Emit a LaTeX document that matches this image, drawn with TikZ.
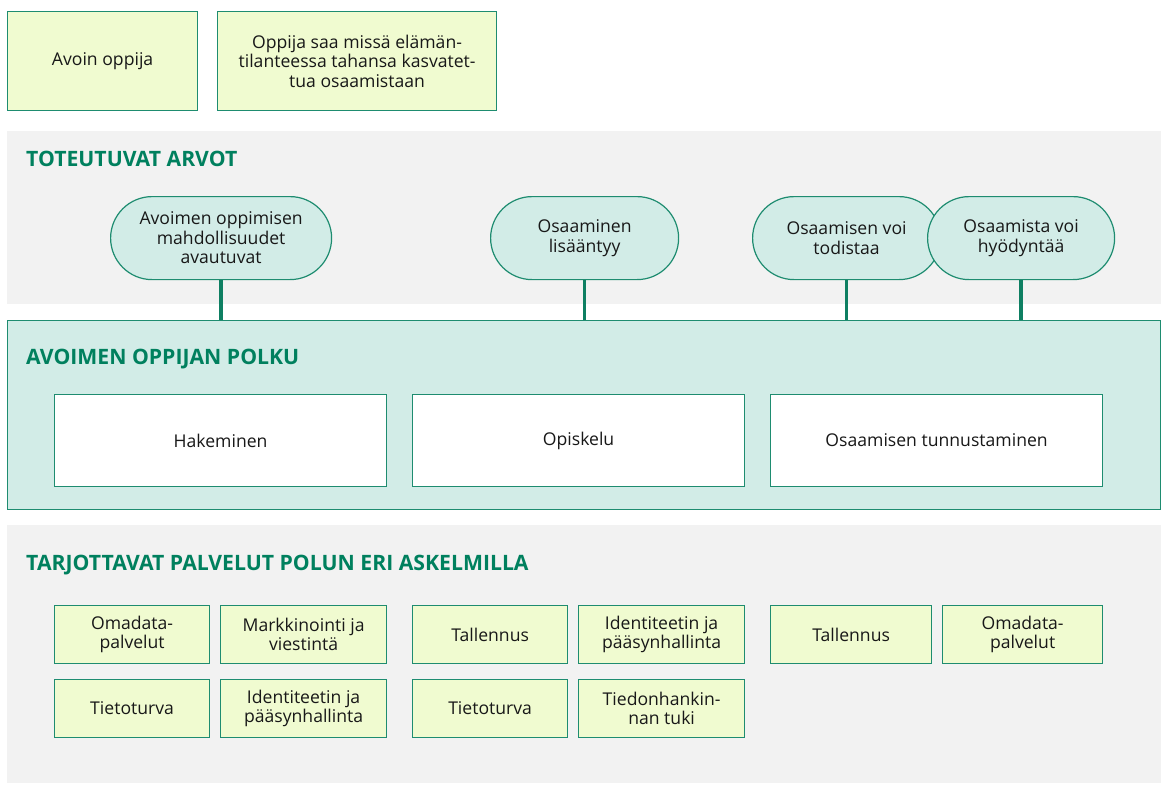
\documentclass[tikz,border=0pt]{standalone}
\usepackage{fontspec}
\setmainfont{Open Sans}
\definecolor{tealline}{HTML}{1E8C70}
\definecolor{titlegreen}{HTML}{00805E}
\definecolor{pillfill}{HTML}{D2ECE7}
\definecolor{yfill}{HTML}{F0FBD0}
\definecolor{greybg}{HTML}{F2F2F2}
\definecolor{txt}{HTML}{181818}
\definecolor{conn}{HTML}{0E7F62}
\begin{document}
\begin{tikzpicture}[x=1pt,y=-1pt,
  every node/.style={font=\fontsize{17.6}{19.5}\selectfont, text=txt, align=center, inner sep=0pt, anchor=north west},
  ybox/.style={draw=tealline, line width=1.2pt, fill=yfill},
  wbox/.style={draw=tealline, line width=1.2pt, fill=white, minimum width=332pt, minimum height=92pt},
  sbox/.style={ybox, minimum height=58pt},
  pill/.style={draw=tealline, line width=1.2pt, fill=pillfill, rounded corners=41.5pt, minimum width=188pt, minimum height=83pt},
  panel/.style={fill=greybg, minimum width=1154pt},
  ttl/.style={font=\fontsize{21.2}{25}\selectfont\bfseries, text=titlegreen, anchor=base west},
  conn/.style={draw=conn, line width=3.5pt}
]
\useasboundingbox (0,0) rectangle (1161,785);
% top boxes
\node[ybox, minimum width=190pt, minimum height=99pt] (avoin) at (7,11) {Avoin oppija};
\node[ybox, minimum width=279pt, minimum height=99pt] (oppija) at (217,11) {Oppija saa missä elämän-\\tilanteessa tahansa kasvatet-\\tua osaamistaan};
% panel 1
\node[panel, minimum height=173pt] (arvot) at (7,131) {};
\node[ttl] (arvottitle) at (26,166) {TOTEUTUVAT ARVOT};
% panel 2
\node[draw=tealline, line width=1.2pt, fill=pillfill, minimum width=1153pt, minimum height=189pt] (polku) at (7,320) {};
\node[ttl] (polkutitle) at (26,364) {AVOIMEN OPPIJAN POLKU};
% pills
\node[pill, minimum width=221pt] (v1) at (110,196) {Avoimen oppimisen\\mahdollisuudet\\avautuvat};
\node[pill] (v2) at (490,196) {Osaaminen\\lisääntyy};
\node[pill] (v3) at (752,196) {Osaamisen voi\\todistaa};
\node[pill, minimum width=187pt] (v4) at (927,196) {Osaamista voi\\hyödyntää};
\draw[conn] (v1.south) -- (v1.south |- polku.north);
\draw[conn] (v2.south) -- (v2.south |- polku.north);
\draw[conn] (v3.south) -- (v3.south |- polku.north);
\draw[conn] (v4.south) -- (v4.south |- polku.north);
% path steps
\node[wbox] (hak) at (54,394) {Hakeminen};
\node[wbox] (opi) at (412,394) {Opiskelu};
\node[wbox] (tun) at (770,394) {Osaamisen tunnustaminen};
% panel 3
\node[panel, minimum height=258pt] (palv) at (7,525) {};
\node[ttl] (palvtitle) at (26,570) {TARJOTTAVAT PALVELUT POLUN ERI ASKELMILLA};
% service boxes
\node[sbox, minimum width=155pt] (s1) at (54,605) {Omadata-\\palvelut};
\node[sbox, minimum width=166pt] (s2) at (220,605) {Markkinointi ja\\viestintä};
\node[sbox, minimum width=155pt] (s3) at (54,679) {Tietoturva};
\node[sbox, minimum width=166pt] (s4) at (220,679) {Identiteetin ja\\pääsynhallinta};
\node[sbox, minimum width=155pt] (s5) at (412,605) {Tallennus};
\node[sbox, minimum width=166pt] (s6) at (578,605) {Identiteetin ja\\pääsynhallinta};
\node[sbox, minimum width=155pt] (s7) at (412,679) {Tietoturva};
\node[sbox, minimum width=166pt] (s8) at (578,679) {Tiedonhankin-\\nan tuki};
\node[sbox, minimum width=161pt] (s9) at (770,605) {Tallennus};
\node[sbox, minimum width=160pt] (s10) at (942,605) {Omadata-\\palvelut};
\end{tikzpicture}
\end{document}
